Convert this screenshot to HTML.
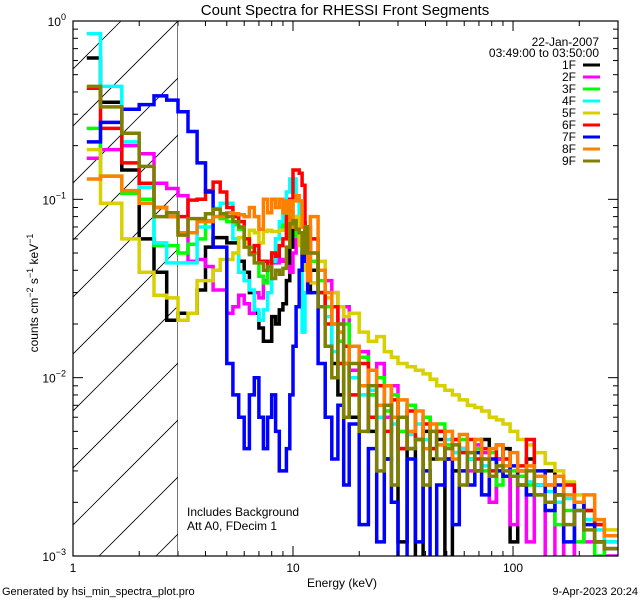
<!DOCTYPE html>
<html><head><meta charset="utf-8"><style>
html,body{margin:0;padding:0;background:#fff;}
svg{display:block;font-family:"Liberation Sans",sans-serif;}
</style></head><body>
<svg id="chart" width="640" height="600" viewBox="0 0 640 600" xmlns="http://www.w3.org/2000/svg">
<text x="345" y="15" font-size="15" text-anchor="middle">Count Spectra for RHESSI Front Segments</text>
<g id="hatch"></g>
<g id="series"></g>
<g id="axes"></g>
<text transform="translate(38,293) rotate(-90)" font-size="12" text-anchor="middle">counts cm<tspan dy="-5" font-size="9">−2</tspan><tspan dy="5"> s</tspan><tspan dy="-5" font-size="9">−1</tspan><tspan dy="5"> keV</tspan><tspan dy="-5" font-size="9">−1</tspan></text>
<text x="342" y="587" font-size="12" text-anchor="middle">Energy (keV)</text>
<text x="187" y="516" font-size="12">Includes Background</text>
<text x="187" y="530" font-size="12">Att A0, FDecim 1</text>
<text x="2" y="595" font-size="11">Generated by hsi_min_spectra_plot.pro</text>
<text x="638" y="595" font-size="11" text-anchor="end">9-Apr-2023 20:24</text>
<text x="599" y="46" font-size="12" text-anchor="end">22-Jan-2007</text>
<text x="599" y="57" font-size="12" text-anchor="end">03:49:00 to 03:50:00</text>
<g id="legend"></g>
</svg>
<script>
const NS="http://www.w3.org/2000/svg";
const names=["1F","2F","3F","4F","5F","6F","7F","8F","9F"];
const colors=["#000000","#ff00ff","#00ff00","#00ffff","#d8d000","#ff0000","#0000ff","#ff8000","#808000"];
const lowEdgeStep=1/3;
const highEdges=[12,13,14,15,16,17,18,20,22,24,26,28,30,33,36,39,42,45,49,53,57,62,67,72,78,84,90,97,105,115,125,140,155,170,190,210,235,260,300];
const s1F=[0.62,0.35,0.146,0.06,0.039,0.021,0.023,0.023,0.031,0.054,0.061,0.061,0.057,0.057,0.045,0.039,0.03,0.023,0.019,0.016,0.016,0.022,0.02,0.024,0.026,0.035,0.054,0.076,0.07,0.074,0.074,0.045,0.03,
 0.04,0.03,0.025,0.012,0.008,0.012,0.006,0.009,0.005,0.007,0.0035,0.006,0.0012,0.004,0.0009,0.005,0.0035,0.0045,0.0009,0.003,0.004,0.0035,0.003,0.0045,0.002,0.0035,0.004,0.0012,0.003,0.0035,0.0025,0.003,0.0022,0.0009,0.002,0.0018,0.0012,0.0009];
const s2F=[0.17,0.19,0.2,0.18,0.123,0.115,0.105,0.045,0.046,0.042,0.031,0.031,0.023,0.025,0.029,0.026,0.023,0.03,0.028,0.035,0.045,0.044,0.044,0.046,0.045,0.042,0.039,0.05,0.06,0.07,0.07,0.065,0.07,
 0.05,0.04,0.035,0.03,0.02,0.025,0.011,0.014,0.008,0.012,0.006,0.009,0.004,0.007,0.0045,0.006,0.004,0.005,0.0035,0.0045,0.004,0.003,0.0042,0.0038,0.002,0.0035,0.0028,0.0015,0.003,0.0012,0.0025,0.0009,0.002,0.0009,0.0018,0.0012,0.0015,0.001];
const s3F=[0.25,0.135,0.108,0.1,0.055,0.055,0.05,0.056,0.06,0.076,0.08,0.078,0.075,0.072,0.068,0.06,0.054,0.05,0.037,0.034,0.04,0.05,0.06,0.07,0.073,0.085,0.093,0.08,0.062,0.056,0.05,0.06,0.07,
 0.045,0.035,0.025,0.02,0.016,0.02,0.01,0.013,0.008,0.01,0.0065,0.008,0.005,0.007,0.0045,0.006,0.004,0.0055,0.0042,0.0038,0.0045,0.0035,0.004,0.003,0.0038,0.0025,0.0035,0.003,0.0028,0.0025,0.0022,0.002,0.0015,0.0018,0.0012,0.0016,0.001,0.0012];
const s4F=[0.85,0.43,0.21,0.117,0.057,0.044,0.044,0.044,0.07,0.07,0.089,0.095,0.095,0.06,0.039,0.035,0.031,0.024,0.021,0.024,0.03,0.045,0.06,0.075,0.09,0.11,0.13,0.13,0.1,0.065,0.018,0.03,0.04,
 0.06,0.03,0.022,0.014,0.018,0.012,0.01,0.008,0.0085,0.006,0.007,0.0055,0.006,0.0048,0.0055,0.0045,0.005,0.0042,0.0045,0.0038,0.004,0.0035,0.0038,0.0032,0.0035,0.003,0.0032,0.0028,0.003,0.0026,0.0025,0.0023,0.002,0.0021,0.0018,0.0016,0.0014,0.0012];
const s5F=[0.19,0.095,0.06,0.039,0.029,0.028,0.021,0.023,0.035,0.035,0.04,0.046,0.046,0.05,0.061,0.057,0.067,0.065,0.057,0.066,0.067,0.066,0.066,0.067,0.067,0.076,0.085,0.07,0.08,0.055,0.045,0.04,0.036,
 0.034,0.045,0.028,0.03,0.025,0.022,0.023,0.018,0.016,0.017,0.014,0.013,0.012,0.0115,0.011,0.0105,0.0098,0.009,0.0085,0.008,0.0075,0.007,0.0068,0.0065,0.006,0.0058,0.0055,0.005,0.0045,0.0042,0.0038,0.0033,0.003,0.0026,0.0022,0.0018,0.0015,0.0014];
const s6F=[0.42,0.25,0.16,0.123,0.09,0.08,0.08,0.099,0.1,0.112,0.125,0.11,0.09,0.08,0.075,0.06,0.05,0.055,0.045,0.045,0.042,0.05,0.048,0.055,0.06,0.08,0.1,0.146,0.146,0.14,0.12,0.07,0.05,
 0.06,0.03,0.02,0.025,0.012,0.015,0.008,0.012,0.006,0.009,0.005,0.0075,0.004,0.0065,0.0045,0.0055,0.004,0.005,0.0035,0.0045,0.0038,0.0045,0.0035,0.004,0.003,0.0042,0.0035,0.0028,0.0032,0.0045,0.0028,0.0025,0.0022,0.0025,0.002,0.0018,0.0015,0.0013];
const s7F=[0.21,0.27,0.32,0.34,0.38,0.36,0.31,0.24,0.16,0.11,0.054,0.054,0.012,0.008,0.006,0.004,0.008,0.01,0.006,0.004,0.006,0.008,0.005,0.003,0.003,0.004,0.008,0.015,0.025,0.04,0.05,0.045,0.03,
 0.03,0.012,0.006,0.0035,0.007,0.0025,0.0055,0.0015,0.004,0.0012,0.0035,0.002,0.0009,0.0035,0.0012,0.003,0.0009,0.0025,0.0035,0.0015,0.003,0.0025,0.0038,0.0022,0.0035,0.003,0.0028,0.0032,0.0025,0.0022,0.003,0.0018,0.0025,0.0012,0.002,0.0015,0.0012,0.0011];
const s8F=[0.13,0.135,0.112,0.095,0.09,0.08,0.065,0.065,0.075,0.075,0.08,0.08,0.084,0.083,0.082,0.08,0.09,0.08,0.068,0.1,0.084,0.1,0.09,0.1,0.084,0.098,0.07,0.098,0.105,0.098,0.07,0.06,0.035,
 0.08,0.04,0.03,0.02,0.018,0.012,0.015,0.009,0.011,0.007,0.009,0.006,0.0075,0.005,0.0065,0.004,0.0055,0.0042,0.005,0.0035,0.0048,0.0038,0.0045,0.0035,0.004,0.0042,0.0032,0.0038,0.003,0.0032,0.0028,0.0025,0.0028,0.0022,0.002,0.0022,0.0016,0.0013];
const s9F=[0.43,0.33,0.235,0.153,0.08,0.084,0.063,0.078,0.078,0.083,0.088,0.083,0.08,0.075,0.07,0.054,0.049,0.044,0.044,0.04,0.042,0.036,0.04,0.038,0.041,0.054,0.073,0.076,0.068,0.065,0.05,0.07,0.05,
 0.05,0.025,0.015,0.01,0.02,0.006,0.012,0.005,0.009,0.003,0.007,0.0025,0.006,0.004,0.0045,0.0025,0.005,0.0035,0.004,0.0042,0.0025,0.0038,0.003,0.0035,0.0028,0.0032,0.003,0.0028,0.0025,0.003,0.0022,0.002,0.0022,0.0015,0.0018,0.0014,0.0012,0.0011];
const seriesValues=[s1F,s2F,s3F,s4F,s5F,s6F,s7F,s8F,s9F];
const xTicks=[1,10,100];
const yTickExps=[0,-1,-2,-3];

const L=73,R=618,T=21,B=556;
const xMin=0,xMax=Math.log10(300),yMin=-3,yMax=0;
function xs(e){return L+(Math.log10(e)-xMin)/(xMax-xMin)*(R-L);}
function ys(v){v=Math.max(v,1e-4);return B-(Math.log10(v)-yMin)/(yMax-yMin)*(B-T);}
const edges=[];
for(let i=0;i<33;i++)edges.push(1+i*lowEdgeStep);
for(const e of highEdges)edges.push(e);
const svg=document.getElementById('chart');
function mk(tag,attrs,parent){const el=document.createElementNS(NS,tag);for(const k in attrs)el.setAttribute(k,attrs[k]);parent.appendChild(el);return el;}
const defs=mk('defs',{},svg);
const cp=mk('clipPath',{id:'plotclip'},defs);
mk('rect',{x:L,y:T,width:R-L,height:B-T},cp);
const hatch=document.getElementById('hatch');
const x3=xs(3);
const hcp=mk('clipPath',{id:'hatchclip'},defs);
mk('rect',{x:L,y:T,width:x3-L,height:B-T},hcp);
hatch.setAttribute('clip-path','url(#hatchclip)');
for(let k=-12;k<6;k++){
  const x0=99+k*57;
  const ln=mk('line',{x1:x0,y1:B,x2:x0+(B-T),y2:T,stroke:'#000','stroke-width':0.8},hatch);
  
  
}
const vl=mk('line',{x1:x3,y1:T,x2:x3,y2:B,stroke:'#000','stroke-width':1},hatch);


const sg=document.getElementById('series');
sg.setAttribute('clip-path','url(#plotclip)');
seriesValues.forEach((vals,si)=>{
  let d='';
  for(let i=0;i<vals.length;i++){
    let e0=edges[i],e1=edges[i+1];
    if(i===0)e0=1.155;
    const y=ys(vals[i]);
    d+=(i===0?'M':'L')+xs(e0).toFixed(1)+','+y.toFixed(1)+'L'+xs(e1).toFixed(1)+','+y.toFixed(1);
  }
  const p=mk('path',{d:d,fill:'none',stroke:colors[si],'stroke-width':3.5,'stroke-linejoin':'miter'},sg);
  
  
});
const ax=document.getElementById('axes');
const frame=mk('rect',{x:L,y:T,width:R-L,height:B-T,fill:'none',stroke:'#000','stroke-width':1.2},ax);


for(let dec=1;dec<=100;dec*=10){
  for(let m=1;m<10;m++){
    const e=dec*m; if(e>300)break;
    const x=xs(e); const len=m===1?10:5;
    mk('line',{x1:x,y1:B,x2:x,y2:B-len,stroke:'#000'},ax);
    mk('line',{x1:x,y1:T,x2:x,y2:T+len,stroke:'#000'},ax);
  }
}
xTicks.forEach(t=>{
  const tx=mk('text',{x:xs(t),y:572,'font-size':12,'text-anchor':'middle'},ax);
  tx.textContent=String(t);
  
  
});
for(let ex=-3;ex<0;ex++){
  for(let m=1;m<10;m++){
    const v=Math.pow(10,ex)*m;
    const y=ys(v); const len=m===1?10:5;
    mk('line',{x1:L,y1:y,x2:L+len,y2:y,stroke:'#000'},ax);
    mk('line',{x1:R,y1:y,x2:R-len,y2:y,stroke:'#000'},ax);
  }
}
yTickExps.forEach(ex=>{
  const y=ys(Math.pow(10,ex));
  const tx=mk('text',{x:66,y:y+5,'font-size':12,'text-anchor':'end'},ax);
  
  
  const a=document.createElementNS(NS,'tspan');a.textContent='10';tx.appendChild(a);
  const b=document.createElementNS(NS,'tspan');b.setAttribute('dy','-6');b.setAttribute('font-size','9');b.textContent=(ex===0?'0':'−'+(-ex));tx.appendChild(b);
});
const lg=document.getElementById('legend');
names.forEach((n,i)=>{
  const y=69+i*12;
  const t=mk('text',{x:576,y:y,'font-size':12,'text-anchor':'end'},lg);
  t.textContent=n;
  
  
  const l=mk('line',{x1:583,y1:y-4,x2:600,y2:y-4,stroke:colors[i],'stroke-width':3},lg);
  
  
});
</script>
</body></html>
